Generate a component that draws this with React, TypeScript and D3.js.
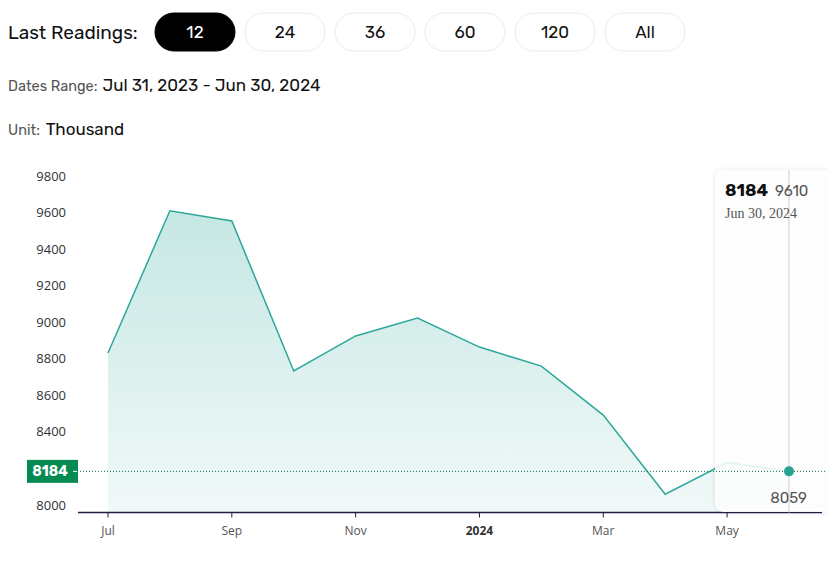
import React from "react";
import * as d3 from "d3";

const months = ["Jul", "Aug", "Sep", "Oct", "Nov", "Dec", "Jan", "Feb", "Mar", "Apr", "May", "Jun"];
const values = [8832, 9610, 9554, 8733, 8925, 9023, 8864, 8760, 8492, 8059, 8232, 8184];
const tickMonths = ["Jul", "Sep", "Nov", "Jan", "Mar", "May"];
const tickLabels = ["Jul", "Sep", "Nov", "2024", "Mar", "May"];
const yTicks = [8000, 8200, 8400, 8600, 8800, 9000, 9200, 9400, 9600, 9800];
const buttons = ["12", "24", "36", "60", "120", "All"];
const lastValue = 8184;
const maxValue = 9610;
const minValue = 8059;
const lastDate = "Jun 30, 2024";

const W = 827;
const H = 586;

export default function App() {
  const x = d3.scalePoint<string>().domain(months).range([108, 789]).padding(0);
  const y = d3.scaleLinear().domain([8000, 9800]).range([505, 176]);
  const yBottom = 512.5;

  const pts = months.map((m, i) => ({ m, v: values[i] }));
  const line = d3.line<any>().x((d) => x(d.m)!).y((d) => y(d.v));
  const area = d3.area<any>().x((d) => x(d.m)!).y0(yBottom).y1((d) => y(d.v));

  const sans = "Rubik, Roboto, 'Noto Sans', sans-serif";
  const tickFont = "'Open Sans', 'Noto Sans', sans-serif";
  const lastX = x(months[months.length - 1])!;
  const lastY = y(lastValue);
  // tick labels hidden beneath the last-value badge are not drawn
  const visibleYTicks = yTicks.filter((t) => Math.abs(y(t) - lastY) > 12);

  return (
    <div style={{ position: "absolute", left: 0, top: 0, width: W, height: H, background: "#fff" }}>
      <svg width={W} height={H} style={{ display: "block" }}>
        <defs>
          <linearGradient id="areaGrad" x1="0" y1="0" x2="0" y2="1">
            <stop offset="0%" stopColor="#c6e7e3" />
            <stop offset="100%" stopColor="#f1f9f8" />
          </linearGradient>
          <filter id="shadow" x="-20%" y="-10%" width="140%" height="120%">
            <feDropShadow dx="0" dy="0" stdDeviation="2.5" floodColor="#000" floodOpacity="0.12" />
          </filter>
        </defs>

        {/* Header */}
        <text x={8} y={39} fontFamily={sans} fontSize={19} fill="#111">Last Readings:</text>
        {buttons.map((b, i) => {
          const bx = 155 + i * 90;
          const active = i === 0;
          return (
            <g key={b}>
              <rect x={bx} y={13} width={80} height={38} rx={19} fill={active ? "#000" : "#fff"} stroke={active ? "#000" : "#ececec"} />
              <text x={bx + 40} y={38} textAnchor="middle" fontFamily={sans} fontSize={17} fill={active ? "#fff" : "#111"}>{b}</text>
            </g>
          );
        })}
        <text x={8} y={91} fontFamily={sans} fill="#555">
          <tspan fontSize={14.5}>Dates Range:</tspan>
          <tspan dx={5} fontSize={17} fill="#111">Jul 31, 2023 - Jun 30, 2024</tspan>
        </text>
        <text x={8} y={135} fontFamily={sans} fill="#555">
          <tspan fontSize={14.5}>Unit:</tspan>
          <tspan dx={6} fontSize={17} fill="#111">Thousand</tspan>
        </text>

        {/* Y axis labels */}
        {visibleYTicks.map((t) => (
          <text key={t} x={66} y={y(t) + 4.5} textAnchor="end" fontFamily={tickFont} fontSize={13} fill="#333">{t}</text>
        ))}

        {/* Area and line */}
        <path d={area(pts)!} fill="url(#areaGrad)" />
        <path d={line(pts)!} fill="none" stroke="#2ba89a" strokeWidth={1.5} />

        {/* X axis */}
        <line x1={78} x2={822} y1={yBottom} y2={yBottom} stroke="#1d1f45" strokeWidth={1.5} />
        {tickMonths.map((m, i) => (
          <g key={m}>
            <line x1={x(m)!} x2={x(m)!} y1={yBottom} y2={yBottom + 5} stroke="#1d1f45" strokeWidth={1} />
            <text x={x(m)!} y={535} textAnchor="middle" fontFamily={tickFont} fontSize={12} fontWeight={tickLabels[i] === "2024" ? 700 : 400} fill={tickLabels[i] === "2024" ? "#333" : "#555"}>{tickLabels[i]}</text>
          </g>
        ))}

        {/* Tooltip overlay */}
        <rect x={715} y={170} width={140} height={342} rx={9} fill="#fff" fillOpacity={0.85} filter="url(#shadow)" />
        <line x1={lastX} x2={lastX} y1={170} y2={yBottom} stroke="#cfcfcf" strokeWidth={1} />
        <text x={725} y={196} fontFamily={sans} fontSize={17} fontWeight={700} fill="#111">{lastValue}</text>
        <text x={775} y={196} fontFamily={sans} fontSize={15} fill="#555">{maxValue}</text>
        <text x={725} y={218} fontFamily="'Liberation Serif', 'Times New Roman', serif" fontSize={14} fill="#555">{lastDate}</text>
        <text x={807} y={503} textAnchor="end" fontFamily={sans} fontSize={15} fill="#555">{minValue}</text>

        {/* Last value guide */}
        <line x1={80} x2={827} y1={lastY} y2={lastY} stroke="#13704a" strokeWidth={1} strokeDasharray="1,2" />
        <rect x={27} y={lastY - 11.5} width={51} height={23} fill="#058a52" />
        <line x1={73} x2={77} y1={lastY} y2={lastY} stroke="#fff" strokeWidth={1} />
        <text x={50} y={lastY + 5} textAnchor="middle" fontFamily={sans} fontSize={14} fontWeight={700} fill="#fff">{lastValue}</text>
        <circle cx={lastX} cy={lastY} r={5} fill="#27a393" />
      </svg>
    </div>
  );
}
